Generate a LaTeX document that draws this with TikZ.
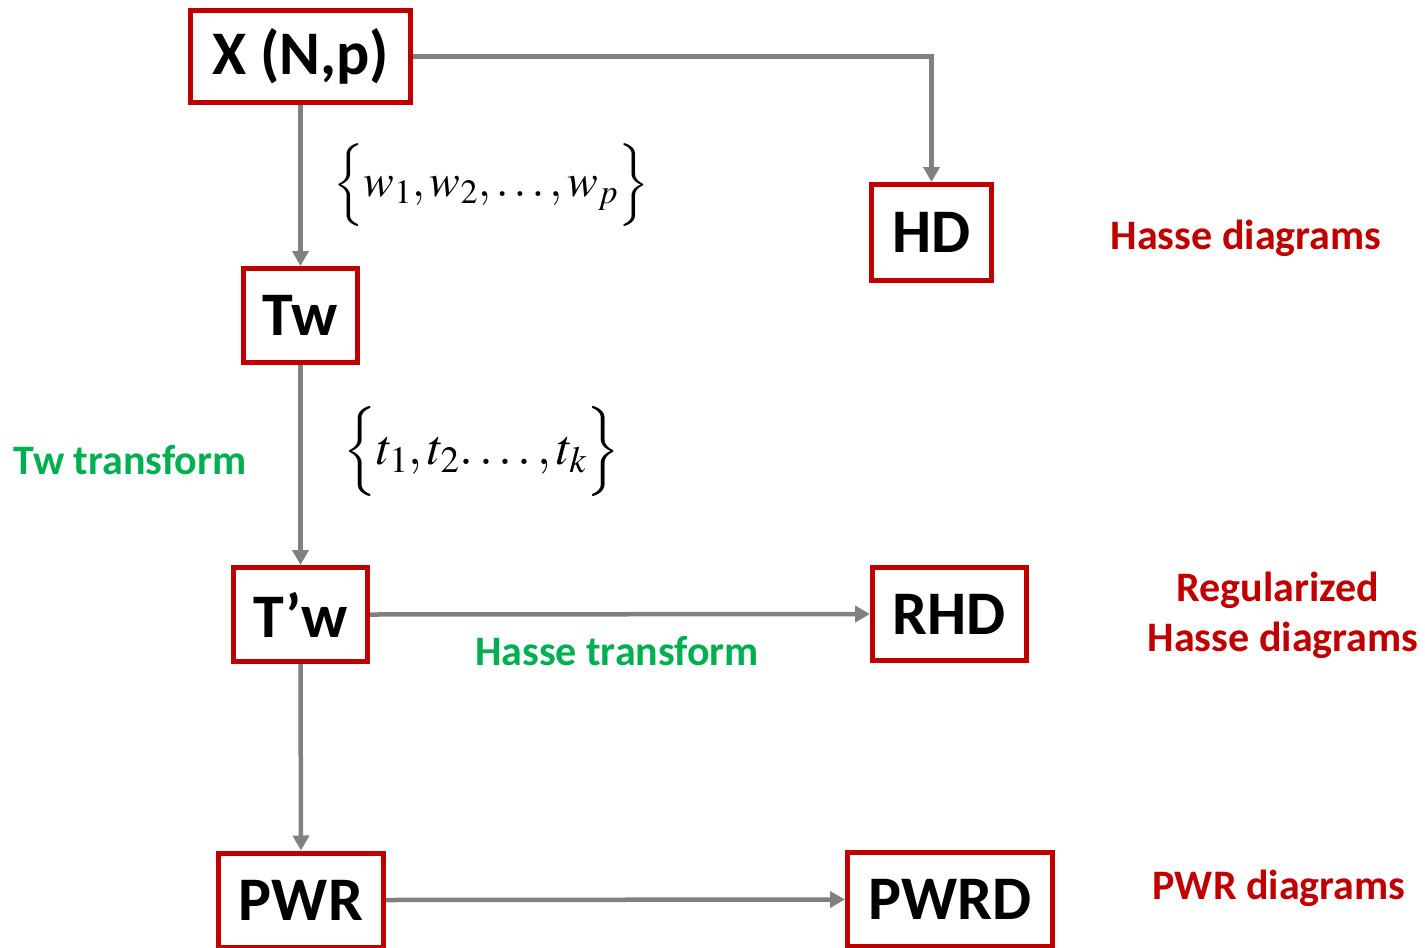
\documentclass[tikz,border=0pt]{standalone}
\usepackage{mathptmx}
\usepackage[no-math]{fontspec}
\setmainfont{Carlito}
\usetikzlibrary{arrows.meta}
\definecolor{boxred}{HTML}{C00000}
\definecolor{arrgray}{HTML}{808080}
\definecolor{lblgreen}{HTML}{00B050}
\tikzset{
  blk/.style={draw=boxred, line width=5pt, fill=white, inner sep=0pt,
    font=\fontsize{62}{64}\selectfont\bfseries, text=black},
  conn/.style={draw=arrgray, line width=4.5pt, -{Triangle[width=16pt,length=15pt]}},
  grn/.style={text=lblgreen, font=\fontsize{42}{46}\selectfont\bfseries},
  rd/.style={text=boxred, font=\fontsize{42}{50}\selectfont\bfseries, align=center},
  mth/.style={font=\fontsize{50}{56}\selectfont}
}
\begin{document}
\begin{tikzpicture}[x=1pt,y=-1pt]
\useasboundingbox (0,0) rectangle (1425,948);
\node[blk, minimum width=220pt, minimum height=92pt] (X) at (300.5,56.5) {X (N,p)};
\node[blk, minimum width=120pt, minimum height=96pt] (HD) at (931.5,232.5) {HD};
\node[blk, minimum width=114pt, minimum height=94pt] (Tw) at (300.5,315.5) {Tw};
\node[blk, minimum width=134pt, minimum height=94pt] (Tpw) at (300.5,614.5) {T’w};
\node[blk, minimum width=154pt, minimum height=93pt] (RHD) at (949.5,614) {RHD};
\node[blk, minimum width=165pt, minimum height=94pt] (PWR) at (301,900) {PWR};
\node[blk, minimum width=205pt, minimum height=94pt] (PWRD) at (950,899.5) {PWRD};

\draw[conn] (X.east) -| (HD.north);
\draw[conn] (X.south) -- (Tw.north);
\draw[conn] (Tw.south) -- (Tpw.north);
\draw[conn] (Tpw.east) -- (RHD.west);
\draw[conn] (Tpw.south) -- (PWR.north);
\draw[conn] (PWR.east) -- (PWRD.west);

\node[mth, font=\fontsize{46}{52}\selectfont] (wset) at (491,185) {$\Bigl\{w_1,w_2,\ldots,w_p\Bigr\}$};
\node[mth] (tset) at (482,452) {$\Bigl\{t_1,t_2.\ldots,t_k\Bigr\}$};
\node[grn] (twt) at (130,460) {Tw transform};
\node[grn] (hst) at (617,651) {Hasse transform};
\node[rd] (hd) at (1246,238) {Hasse diagrams};
\node[rd] (rhd) at (1278,615) {Regularized\\\hspace*{10pt}Hasse diagrams};
\node[rd] (pwr) at (1279,888) {PWR diagrams};
\end{tikzpicture}
\end{document}
